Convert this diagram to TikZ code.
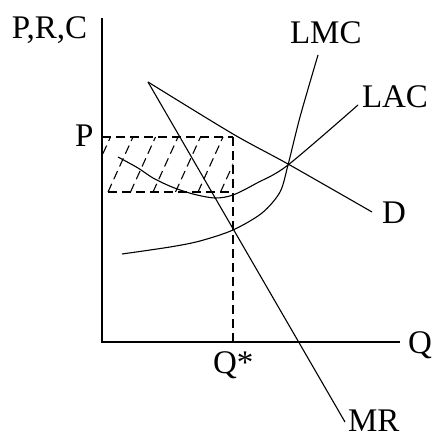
\documentclass[tikz,border=0pt]{standalone}
\usepackage{fontspec}
\setmainfont{Liberation Serif}
\begin{document}
\begin{tikzpicture}[x=1pt,y=-1pt,
  curve/.style={line width=1.1pt,black},
  axis/.style={line width=1.5pt,black},
  dashline/.style={line width=1.1pt,dash pattern=on 9pt off 5pt},
  lab/.style={inner sep=0pt,outer sep=0pt,anchor=base west,font=\fontsize{33}{33}\selectfont}]
\useasboundingbox[fill=white] (0,0) rectangle (431,438);
% axes
\coordinate (O) at (102,342);
\coordinate (ytop) at (102,18);
\coordinate (xend) at (400,342);
\draw[axis] (ytop) -- (O) -- (xend);
% key points
\coordinate (Qs) at (233,342);
\coordinate (PQ) at (233,137);
\coordinate (Pax) at (102,137);
\coordinate (ACq) at (233,192);
\coordinate (bl) at (108,192);
\coordinate (E) at (233,230);
% hatched rectangle
\begin{scope}
\clip (102,137) rectangle (233,192);
\foreach \b in {85.5,108,130.5,153,175.5,198,220.5}
  \draw[dashline] (\b,192) -- (\b+25,137);
\end{scope}
\draw[dashline] (Pax) -- (PQ);
\draw[dashline] (bl) -- (ACq);
\draw[dashline] (PQ) -- (Qs);
% demand
\draw[curve] plot[smooth] coordinates {(148,82) (233,134) (288,164) (372,212)};
% MR
\coordinate (mr1) at (148,82);
\coordinate (mr2) at (345,422);
\draw[curve] (mr1) -- (mr2);
% LAC
\draw[curve] plot[smooth] coordinates {(118,157) (138,168) (153,178) (172,187) (193,194) (215,198) (233,195) (257,183) (288,165) (358,105)};
% LMC
\draw[curve] plot[smooth] coordinates {(122,254) (170,247) (200,241) (233,230) (262,213) (280,192) (288,165) (300,117) (318,55)};
% labels
\node[lab] (lprc) at (12,39) {P,R,C};
\node[lab] (llmc) at (290,44) {LMC};
\node[lab] (llac) at (362,108) {LAC};
\node[lab] (ld) at (382,223) {D};
\node[lab] (lp) at (75,147) {P};
\node[lab] (lq) at (408,353) {Q};
\node[lab] (lqs) at (213,373) {Q*};
\node[lab] (lmr) at (348,431) {MR};
\end{tikzpicture}
\end{document}
